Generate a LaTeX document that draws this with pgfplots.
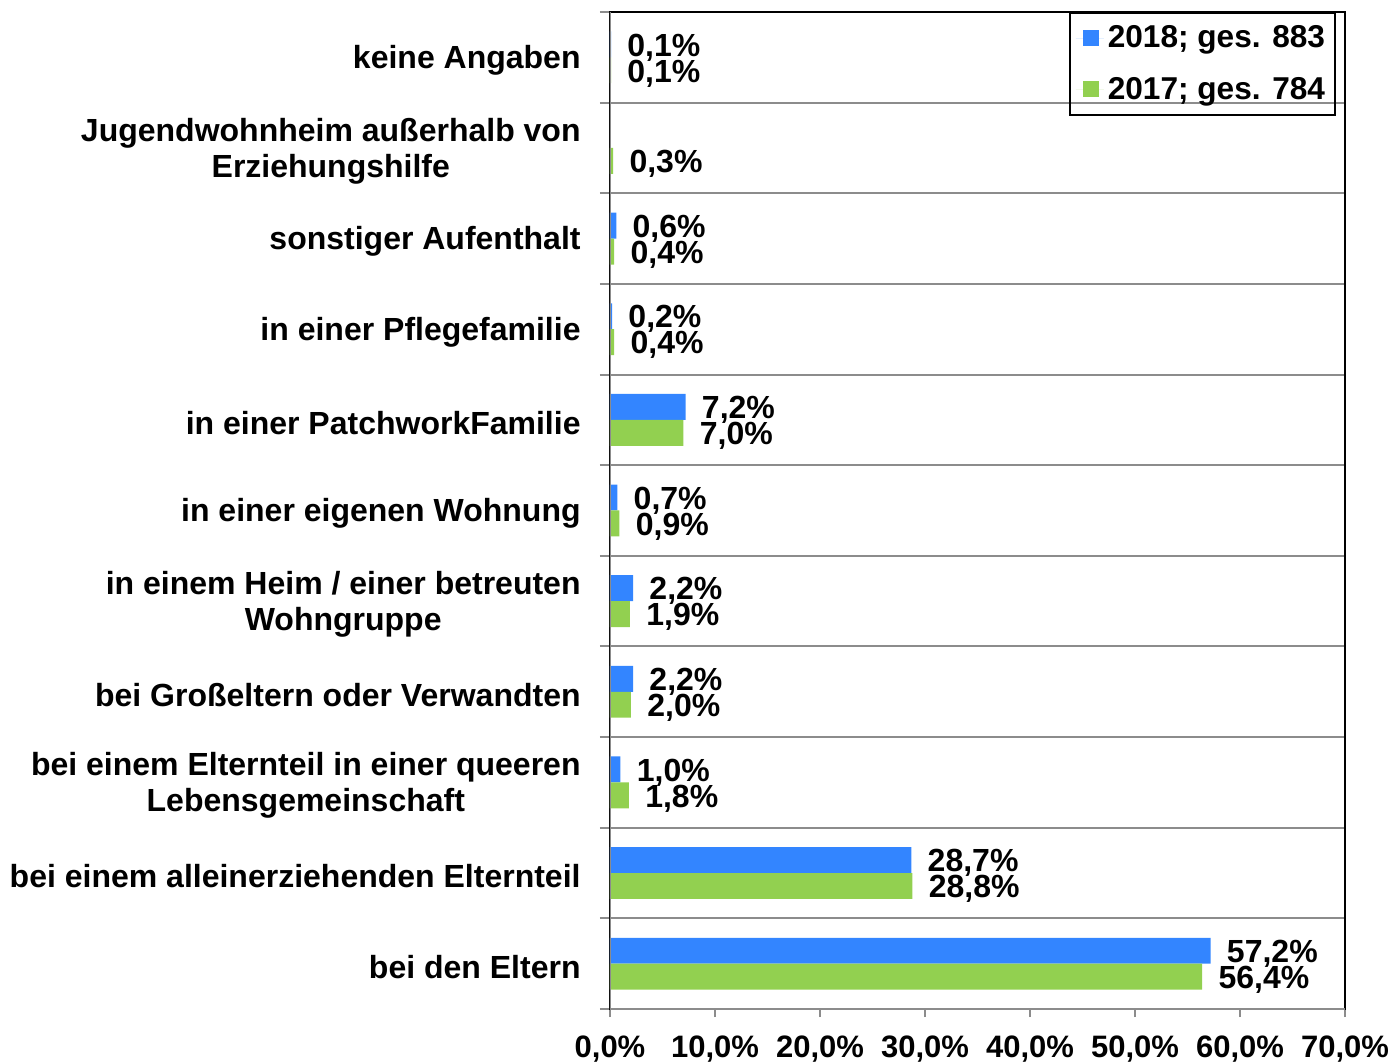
\documentclass[border=0pt]{standalone}
\usepackage{pgfplots}
\pgfplotsset{compat=1.18}
\usepackage{fontspec}
\setmainfont{Liberation Sans}
\definecolor{bblue}{RGB}{51,133,255}
\definecolor{bgreen}{RGB}{146,208,80}
\definecolor{ggray}{RGB}{140,140,140}
\begin{document}
\begin{tikzpicture}
\useasboundingbox (-305pt,-26.5pt) rectangle (392pt,504.5pt);
\begin{axis}[
  at={(0,0)}, anchor=south west,
  scale only axis, width=367.5pt, height=498.5pt,
  xmin=0, xmax=70, ymin=-0.5, ymax=10.5,
  axis line style={draw=black, line width=1pt},
  xtick={0,10,...,70},
  xtick pos=bottom, ytick pos=left,
  tick align=outside,
  major tick length=4pt,
  xtick style={draw=ggray, line width=1pt},
  xticklabel={\pgfmathprintnumber[assume math mode=true,fixed,fixed zerofill,precision=1,use comma]{\tick}\%},
  xticklabel style={font=\fontsize{15.5}{18}\selectfont\bfseries, inner sep=0pt, yshift=-9pt},
  ytick={0,...,10},
  ytick style={draw=none},
  yticklabels={
    bei den Eltern,
    bei einem alleinerziehenden Elternteil,
    {bei einem Elternteil in einer queeren\\Lebensgemeinschaft},
    bei Großeltern oder Verwandten,
    {in einem Heim / einer betreuten\\Wohngruppe},
    in einer eigenen Wohnung,
    in einer PatchworkFamilie,
    in einer Pflegefamilie,
    sonstiger Aufenthalt,
    {Jugendwohnheim außerhalb von\\Erziehungshilfe},
    keine Angaben},
  yticklabel style={font=\fontsize{16}{18}\selectfont\bfseries, align=center, anchor=east, inner sep=0pt, xshift=-10.5pt, yshift=-1.5pt},
  minor ytick={-0.5,0.5,...,10.5},
  minor tick length=5pt,
  minor y tick style={draw=ggray, line width=1pt},
  yminorgrids=true,
  minor grid style={draw=ggray, line width=1pt},
  point meta=x,
  nodes near coords={\pgfmathprintnumber[assume math mode=true,fixed,fixed zerofill,precision=1,use comma]{\pgfplotspointmeta}\%},
  every node near coord/.append style={font=\fontsize{16}{18}\selectfont\bfseries, anchor=west, inner sep=0pt, xshift=8pt, text=black},
  legend style={at={(1,1)}, anchor=north east, xshift=-4.5pt, draw=black, line width=0.9pt, fill=none,
    font=\fontsize{15.8}{19}\selectfont\bfseries, row sep=9pt, inner xsep=3pt, inner ysep=4.5pt},
  legend cell align=left,
  legend image code/.code={\path (-3.5pt,0pt) -- (10.5pt,0pt); \fill[#1] (0pt,-4pt) rectangle (8pt,4pt);},
]
\addplot[xbar, bar width=0.286, bar shift=0.143, fill=bblue, draw=none,
  every node near coord/.append style={yshift=5pt}] coordinates {
  (57.2,0) (28.7,1) (1.0,2) (2.2,3) (2.2,4) (0.7,5) (7.2,6) (0.2,7) (0.6,8) (0.1,10)};
\addlegendentry{2018; ges. 883}
\addplot[xbar, bar width=0.286, bar shift=-0.143, fill=bgreen, draw=none,
  every node near coord/.append style={yshift=-8pt}] coordinates {
  (56.4,0) (28.8,1) (1.8,2) (2.0,3) (1.9,4) (0.9,5) (7.0,6) (0.4,7) (0.4,8) (0.3,9) (0.1,10)};
\addlegendentry{2017; ges. 784}
\draw[ggray, line width=1.3pt] (rel axis cs:0,0) -- (rel axis cs:0,1);
\draw[ggray, line width=1pt] (rel axis cs:0,0) -- (rel axis cs:1,0);
\end{axis}
\end{tikzpicture}
\end{document}
